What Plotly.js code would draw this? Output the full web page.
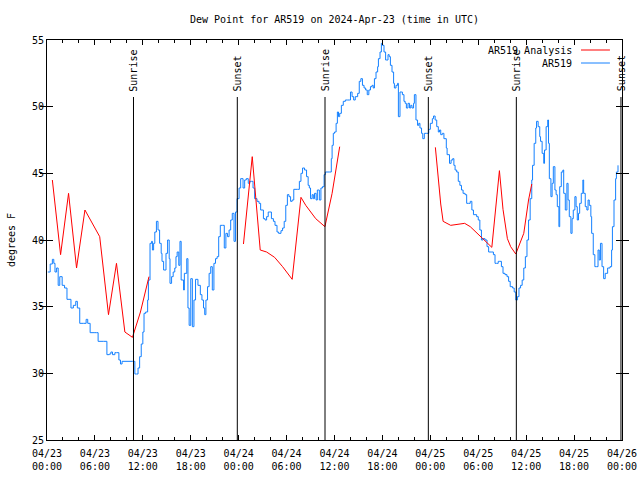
<!DOCTYPE html>
<html>
<head>
<meta charset="utf-8">
<script src="https://cdn.plot.ly/plotly-3.0.1.min.js"></script>
<style>html,body{margin:0;padding:0;background:#fff;}#chart{width:640px;height:480px;}</style>
</head>
<body>
<div id="chart"></div>
<script>
// ---- data (hours after 2024-04-23 00:00 UTC, dew point in degrees F) ----
var startDate = Date.UTC(2024, 3, 23, 0, 0, 0);

var obsHours = [0.1,0.4,0.67,0.85,1.0,1.2,1.4,1.6,1.9,2.2,2.5,2.75,3.0,3.3,3.6,3.8,4.1,4.6,4.9,5.1,5.4,5.9,6.2,6.4,7.1,7.5,7.8,8.0,8.2,8.5,8.7,9.0,9.2,9.4,10.7,11.0,11.2,11.4,11.6,11.8,12.0,12.15,12.35,12.6,12.7,12.9,13.1,13.2,13.35,13.5,13.7,13.9,14.1,14.3,14.4,14.6,14.9,15.1,15.3,15.4,15.6,15.8,16.0,16.15,16.3,16.5,16.65,16.8,17.1,17.2,17.5,17.65,17.8,18.0,18.2,18.4,18.6,18.9,19.2,19.4,19.6,19.75,19.9,20.1,20.3,20.5,20.7,20.9,21.1,21.3,21.5,21.7,21.96,22.2,22.4,22.6,22.8,23.0,23.2,23.42,23.6,23.8,24.05,24.25,24.55,24.75,24.95,25.2,25.4,25.6,25.8,26.0,26.3,26.55,26.75,27.1,27.3,27.5,27.7,27.9,28.1,28.35,28.55,28.8,29.0,29.3,29.5,29.7,29.9,30.1,30.3,30.5,30.7,30.9,31.35,31.6,31.8,32.0,32.25,32.5,32.7,32.85,33.0,33.2,33.35,33.5,33.7,33.85,34.1,34.3,34.5,34.7,34.86,35.4,35.6,35.7,35.85,36.0,36.2,36.36,36.5,36.65,36.86,37.1,37.36,37.6,37.9,38.0,38.2,38.4,38.6,38.9,39.1,39.3,39.5,39.7,39.9,40.1,40.3,40.5,40.7,40.85,41.0,41.2,41.4,41.5,41.7,41.87,42.0,42.2,42.4,42.55,42.7,42.85,43.0,43.2,43.4,43.5,43.7,43.9,44.0,44.2,44.35,44.5,44.7,44.85,45.0,45.2,45.4,45.55,45.7,45.9,46.0,46.2,46.4,46.55,46.7,46.9,47.05,47.25,47.5,47.7,47.8,48.0,48.25,48.4,48.6,48.8,49.0,49.15,49.3,49.5,49.7,50.0,50.1,50.4,50.6,50.8,50.95,51.1,51.3,51.5,51.7,51.9,52.1,52.35,52.55,52.8,53.0,53.2,53.4,53.8,54.0,54.2,54.4,54.6,54.85,55.1,55.3,55.7,55.9,56.1,56.3,56.5,56.7,56.9,57.1,57.35,57.6,57.8,58.0,58.3,58.5,58.7,58.9,59.1,59.3,59.5,59.7,59.9,60.1,60.3,60.5,60.7,60.8,61.0,61.2,61.3,61.5,61.7,61.8,62.0,62.2,62.3,62.5,62.7,62.8,62.9,63.1,63.25,63.4,63.6,63.75,63.9,64.1,64.2,64.4,64.6,64.7,64.9,65.1,65.25,65.4,65.6,65.75,65.9,66.1,66.25,66.4,66.55,66.7,66.9,67.1,67.2,67.4,67.6,67.75,67.9,68.1,68.2,68.4,68.6,68.8,69.0,69.15,69.3,69.5,69.7,69.9,70.2,70.5,70.7,70.8,71.0,71.2,71.3,71.5];
var obsValues = [37.6,38.2,38.55,38.25,37.6,37.9,36.6,37.25,36.6,36.4,35.55,35.55,34.9,35.1,35.4,34.9,33.75,33.75,34.05,33.75,33.05,33.05,33.05,32.4,32.4,31.4,31.45,31.6,31.4,31.55,31.55,31.0,30.7,30.9,30.9,29.95,29.95,30.4,31.25,32.2,33.1,34.5,34.6,35.5,37.0,39.75,39.9,39.25,39.75,40.6,41.4,40.75,39.75,39.0,38.4,37.75,39.0,40.0,38.6,36.75,37.25,37.6,37.9,38.75,39.1,38.1,39.9,37.0,36.25,37.5,38.6,34.9,33.6,37.1,33.5,35.5,37.05,36.6,35.9,35.5,34.9,34.4,35.5,36.5,37.5,38.0,36.25,38.25,38.6,38.75,40.25,41.1,41.1,39.4,40.5,40.25,40.75,41.5,42.0,39.9,42.1,43.1,43.9,44.6,43.9,44.5,44.6,44.25,44.4,44.4,43.9,43.1,42.9,42.75,42.25,41.6,41.5,41.75,42.1,42.1,41.6,41.4,41.1,40.6,40.5,40.7,40.9,41.4,42.6,43.4,43.25,42.9,43.0,43.8,43.8,44.4,45.0,45.4,45.25,44.75,44.1,43.9,43.1,43.4,43.1,43.5,43.0,43.75,43.0,43.9,44.0,44.9,45.1,45.1,46.1,47.1,48.0,48.1,48.75,49.6,49.25,49.5,50.1,50.4,50.5,50.5,50.5,51.1,50.75,50.5,50.75,51.0,51.9,52.1,51.6,51.4,51.25,50.9,51.25,51.5,51.6,51.4,52.1,52.6,53.0,53.6,54.1,54.75,54.6,54.1,53.5,53.5,53.9,53.75,53.1,52.6,51.75,51.4,51.6,51.75,49.25,51.1,51.1,50.9,50.4,50.25,49.9,50.25,49.9,50.1,49.9,50.25,50.9,49.0,48.6,48.75,48.4,48.0,47.6,48.0,48.0,48.0,48.3,48.75,49.1,49.3,49.0,48.5,48.1,48.25,47.9,48.0,47.6,46.9,46.4,45.75,46.0,46.1,45.6,45.25,45.1,44.4,44.1,43.75,43.5,43.4,42.75,42.75,42.9,42.25,41.9,41.75,41.5,40.75,40.0,40.1,40.0,39.5,39.1,39.1,38.9,38.25,38.25,38.4,38.4,38.0,37.5,37.4,37.25,36.9,36.5,36.4,36.1,35.5,35.75,36.4,36.6,37.0,37.9,38.75,40.0,41.5,43.1,44.5,45.6,47.25,48.4,48.9,48.5,47.75,47.4,46.5,45.75,46.75,48.5,49.0,47.25,44.6,43.25,44.25,45.5,43.75,43.4,42.5,41.0,44.0,45.1,45.25,43.5,42.25,44.25,43.0,41.75,40.5,41.6,42.25,43.25,42.5,41.5,42.0,42.75,43.5,44.5,43.5,42.5,42.25,43.0,42.6,41.75,40.5,38.9,38.0,38.0,39.25,38.5,39.75,38.0,37.1,37.5,37.9,38.0,39.25,41.0,43.0,44.6,45.1,45.6];

// analysis series: null marks a gap
var anaHours = [0.67,1.7,2.7,3.7,4.75,6.6,7.7,8.7,9.75,10.7,11.7,12.77, 18.0, 24.6,25.7,26.7,27.5,28.5,29.5,30.7,31.8,32.4,33.65,34.8,35.7,36.65, 42.0, 48.63,49.0,49.3,49.6,50.55,52.3,53.0,55.7,56.65,57.1,57.65,58.06,58.7,59.7,60.3,60.7];
var anaValues = [44.5,38.9,43.5,37.9,42.25,40.25,34.4,38.25,33.1,32.7,34.6,37.25, null, 39.7,46.25,39.25,39.1,38.7,38.0,37.05,43.2,42.6,41.6,41.0,43.5,47.0, null, 46.95,44.5,42.7,41.4,41.1,41.25,41.0,39.45,45.2,42.3,40.1,39.5,38.95,40.5,43.0,44.2];

var sunHours = [10.83, 23.83, 34.81, 47.75, 58.77, 71.87];
var sunLabels = ["Sunrise", "Sunset", "Sunrise", "Sunset", "Sunrise", "Sunset"];

var tickHours = [0, 6, 12, 18, 24, 30, 36, 42, 48, 54, 60, 66, 72];
var tickDates = ["04/23","04/23","04/23","04/23","04/24","04/24","04/24","04/24","04/25","04/25","04/25","04/25","04/26"];
var tickTimes = ["00:00","06:00","12:00","18:00","00:00","06:00","12:00","18:00","00:00","06:00","12:00","18:00","00:00"];

var seriesNames = ["AR519 Analysis", "AR519"];
var seriesColors = ["#ff0000", "#1480ff"];

// ---- helpers ----
function toDate(h) {
  return new Date(startDate + h * 3600000).toISOString().slice(0, 19).replace('T', ' ');
}

var FONT = {family: "DejaVu Sans Mono, Liberation Mono, monospace", size: 10, color: "#000"};

var traces = [
  {x: obsHours.map(toDate), y: obsValues, type: 'scatter', mode: 'lines', name: seriesNames[1],
   line: {color: seriesColors[1], width: 1, shape: 'hv'}, hoverinfo: 'skip'},
  // analysis trace uses the overlaid time-of-day axis (identical range to the date axis)
  {x: anaHours.map(toDate), y: anaValues, type: 'scatter', mode: 'lines', name: seriesNames[0],
   xaxis: 'x2', yaxis: 'y',
   line: {color: seriesColors[0], width: 1}, connectgaps: false, hoverinfo: 'skip'}
];

var shapes = [];
var annotations = [];
sunHours.forEach(function (h, i) {
  shapes.push({type: 'line', xref: 'x', yref: 'paper', x0: toDate(h), x1: toDate(h), y0: 0, y1: 0.8575,
               line: {color: '#000', width: 1}});
  annotations.push({xref: 'x', yref: 'paper', x: toDate(h), y: 0.867, text: sunLabels[i], textangle: -90,
                    showarrow: false, xanchor: 'center', yanchor: 'bottom', font: FONT});
});

// legend drawn at the top right like the original (text then sample line)
var legendY = [0.975, 0.9425];
seriesNames.forEach(function (n, i) {
  annotations.push({xref: 'paper', yref: 'paper', x: 0.9165, y: legendY[i], text: n, showarrow: false,
                    xanchor: 'right', yanchor: 'middle', font: FONT});
  shapes.push({type: 'line', xref: 'paper', yref: 'paper', x0: 0.9287, x1: 0.979, y0: legendY[i], y1: legendY[i],
               line: {color: seriesColors[i], width: 1}});
});

var xRange = [toDate(0), toDate(72)];

var layout = {
  width: 640, height: 480,
  margin: {l: 47, r: 18, t: 40, b: 40, pad: 0},
  paper_bgcolor: '#fff', plot_bgcolor: '#fff',
  font: FONT,
  showlegend: false,
  title: {text: 'Dew Point for AR519 on 2024-Apr-23 (time in UTC)', font: FONT,
          x: 0.5, xref: 'paper', xanchor: 'center', y: 1 - 19 / 480, yref: 'container', yanchor: 'middle'},
  xaxis: {
    type: 'date', range: xRange,
    tickmode: 'array', tickvals: tickHours.map(toDate), ticktext: tickDates,
    ticks: 'inside', ticklen: 5, tickwidth: 1, tickcolor: '#000', ticklabelstandoff: 4,
    minor: {tickmode: 'linear', tick0: toDate(0), dtick: 2 * 3600000, ticks: 'inside', ticklen: 3, tickcolor: '#000', showgrid: false},
    showline: true, linecolor: '#000', linewidth: 1, mirror: 'allticks',
    showgrid: false, zeroline: false, tickfont: FONT, fixedrange: true
  },
  xaxis2: {
    type: 'date', range: xRange, overlaying: 'x', anchor: 'y', side: 'bottom',
    tickmode: 'array', tickvals: tickHours.map(toDate), ticktext: tickTimes,
    ticks: '', ticklabelstandoff: 19, showline: false,
    showgrid: false, zeroline: false, tickfont: FONT, fixedrange: true
  },
  yaxis: {
    range: [25, 55], tickmode: 'linear', tick0: 25, dtick: 5,
    ticks: 'inside', ticklen: 6, tickwidth: 1, tickcolor: '#000',
    showline: true, linecolor: '#000', linewidth: 1, mirror: 'allticks',
    showgrid: false, zeroline: false, tickfont: FONT,
    title: {text: 'degrees F', font: FONT, standoff: 14}
  },
  shapes: shapes,
  annotations: annotations
};

Plotly.newPlot('chart', traces, layout, {staticPlot: true, displayModeBar: false});
</script>
</body>
</html>
